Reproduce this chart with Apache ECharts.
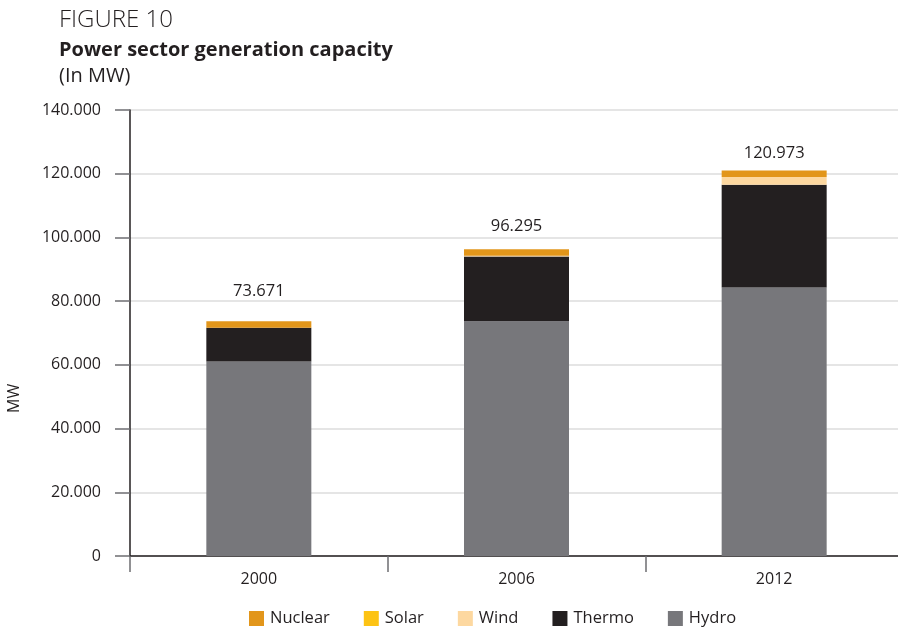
<!DOCTYPE html>
<html>
<head>
<meta charset="utf-8">
<script src="https://cdn.jsdelivr.net/npm/echarts@6/dist/echarts.min.js"></script>
<style>html,body{margin:0;padding:0;background:#fff}#c{width:898px;height:627px}</style>
</head>
<body>
<div id="c"></div>
<script>
const categories = ['2000', '2006', '2012'];
const hydro   = [61063, 73678, 84294];
const thermo  = [10601, 20372, 32218];
const wind    = [0, 237, 2452];
const solar   = [0, 1, 2];
const nuclear = [2007, 2007, 2007];
const yTicks = [0, 20000, 40000, 60000, 80000, 100000, 120000, 140000];

// styling only: gap between the total label and the top of each bar
const LABEL_GAPS = [22, 14, 9];

const totals = categories.map((_, i) => hydro[i] + thermo[i] + wind[i] + solar[i] + nuclear[i]);
const fmt = v => String(v).replace(/\B(?=(\d{3})+(?!\d))/g, '.');
const FONT = '"Open Sans", "Noto Sans", sans-serif';
const TXT = '#231f20';

const chart = echarts.init(document.getElementById('c'), null, {renderer: 'canvas'});
const mk = (name, data, color, extra) => Object.assign({
  name, type: 'bar', stack: 'total', data, barWidth: 105,
  itemStyle: {color}, emphasis: {disabled: true}
}, extra || {});

chart.setOption({
  animation: false,
  textStyle: {fontFamily: FONT, color: TXT},
  title: [
    {text: 'FIGURE 10', left: 54, top: 3, textStyle: {fontFamily: FONT, fontWeight: 300, fontSize: 24, color: TXT}},
    {text: 'Power sector generation capacity', left: 54, top: 35, textStyle: {fontFamily: FONT, fontWeight: 'bold', fontSize: 20, color: TXT}},
    {text: '(In MW)', left: 54, top: 61, textStyle: {fontFamily: FONT, fontWeight: 'normal', fontSize: 20, color: TXT}}
  ],
  graphic: [{
    type: 'text', x: 6, y: 413, rotation: Math.PI / 2,
    style: {text: 'MW', font: '16px ' + FONT, fill: TXT}
  }],
  legend: {
    data: ['Nuclear', 'Solar', 'Wind', 'Thermo', 'Hydro'],
    left: 249, top: 610, padding: 0, itemWidth: 15, itemHeight: 15, itemGap: 34, icon: 'rect',
    textStyle: {fontFamily: FONT, fontSize: 16.5, color: TXT, padding: [0, 0, 0, 1]}
  },
  grid: {left: 130, width: 773, top: 110, height: 446, containLabel: false, outerBoundsMode: 'none'},
  xAxis: {
    type: 'category', data: categories,
    axisLine: {lineStyle: {color: TXT, width: 1.5}},
    axisTick: {show: true, length: 16, lineStyle: {color: '#6d6e71', width: 1.5}},
    axisLabel: {margin: 15, fontFamily: FONT, fontSize: 16, color: TXT}
  },
  yAxis: {
    type: 'value', min: yTicks[0], max: yTicks[yTicks.length - 1], interval: yTicks[1] - yTicks[0],
    axisLine: {show: true, lineStyle: {color: TXT, width: 1.5}},
    axisTick: {show: true, length: 15, lineStyle: {color: '#6d6e71', width: 1.5}},
    splitLine: {lineStyle: {color: '#dcdcdc', width: 1.5}},
    axisLabel: {margin: 29, fontFamily: FONT, fontSize: 16, color: TXT, formatter: v => fmt(v)}
  },
  series: [
    mk('Hydro', hydro, '#77777b'),
    mk('Thermo', thermo, '#231f20'),
    mk('Wind', wind, '#fdd8a0'),
    mk('Solar', solar, '#fdc314'),
    mk('Nuclear', nuclear.map((v, i) => ({value: v, label: {distance: LABEL_GAPS[i]}})), '#e2961b', {
      label: {
        show: true, position: 'top',
        fontFamily: FONT, fontSize: 16.5, color: TXT,
        formatter: p => fmt(totals[p.dataIndex])
      }
    })
  ]
});
</script>
</body>
</html>
